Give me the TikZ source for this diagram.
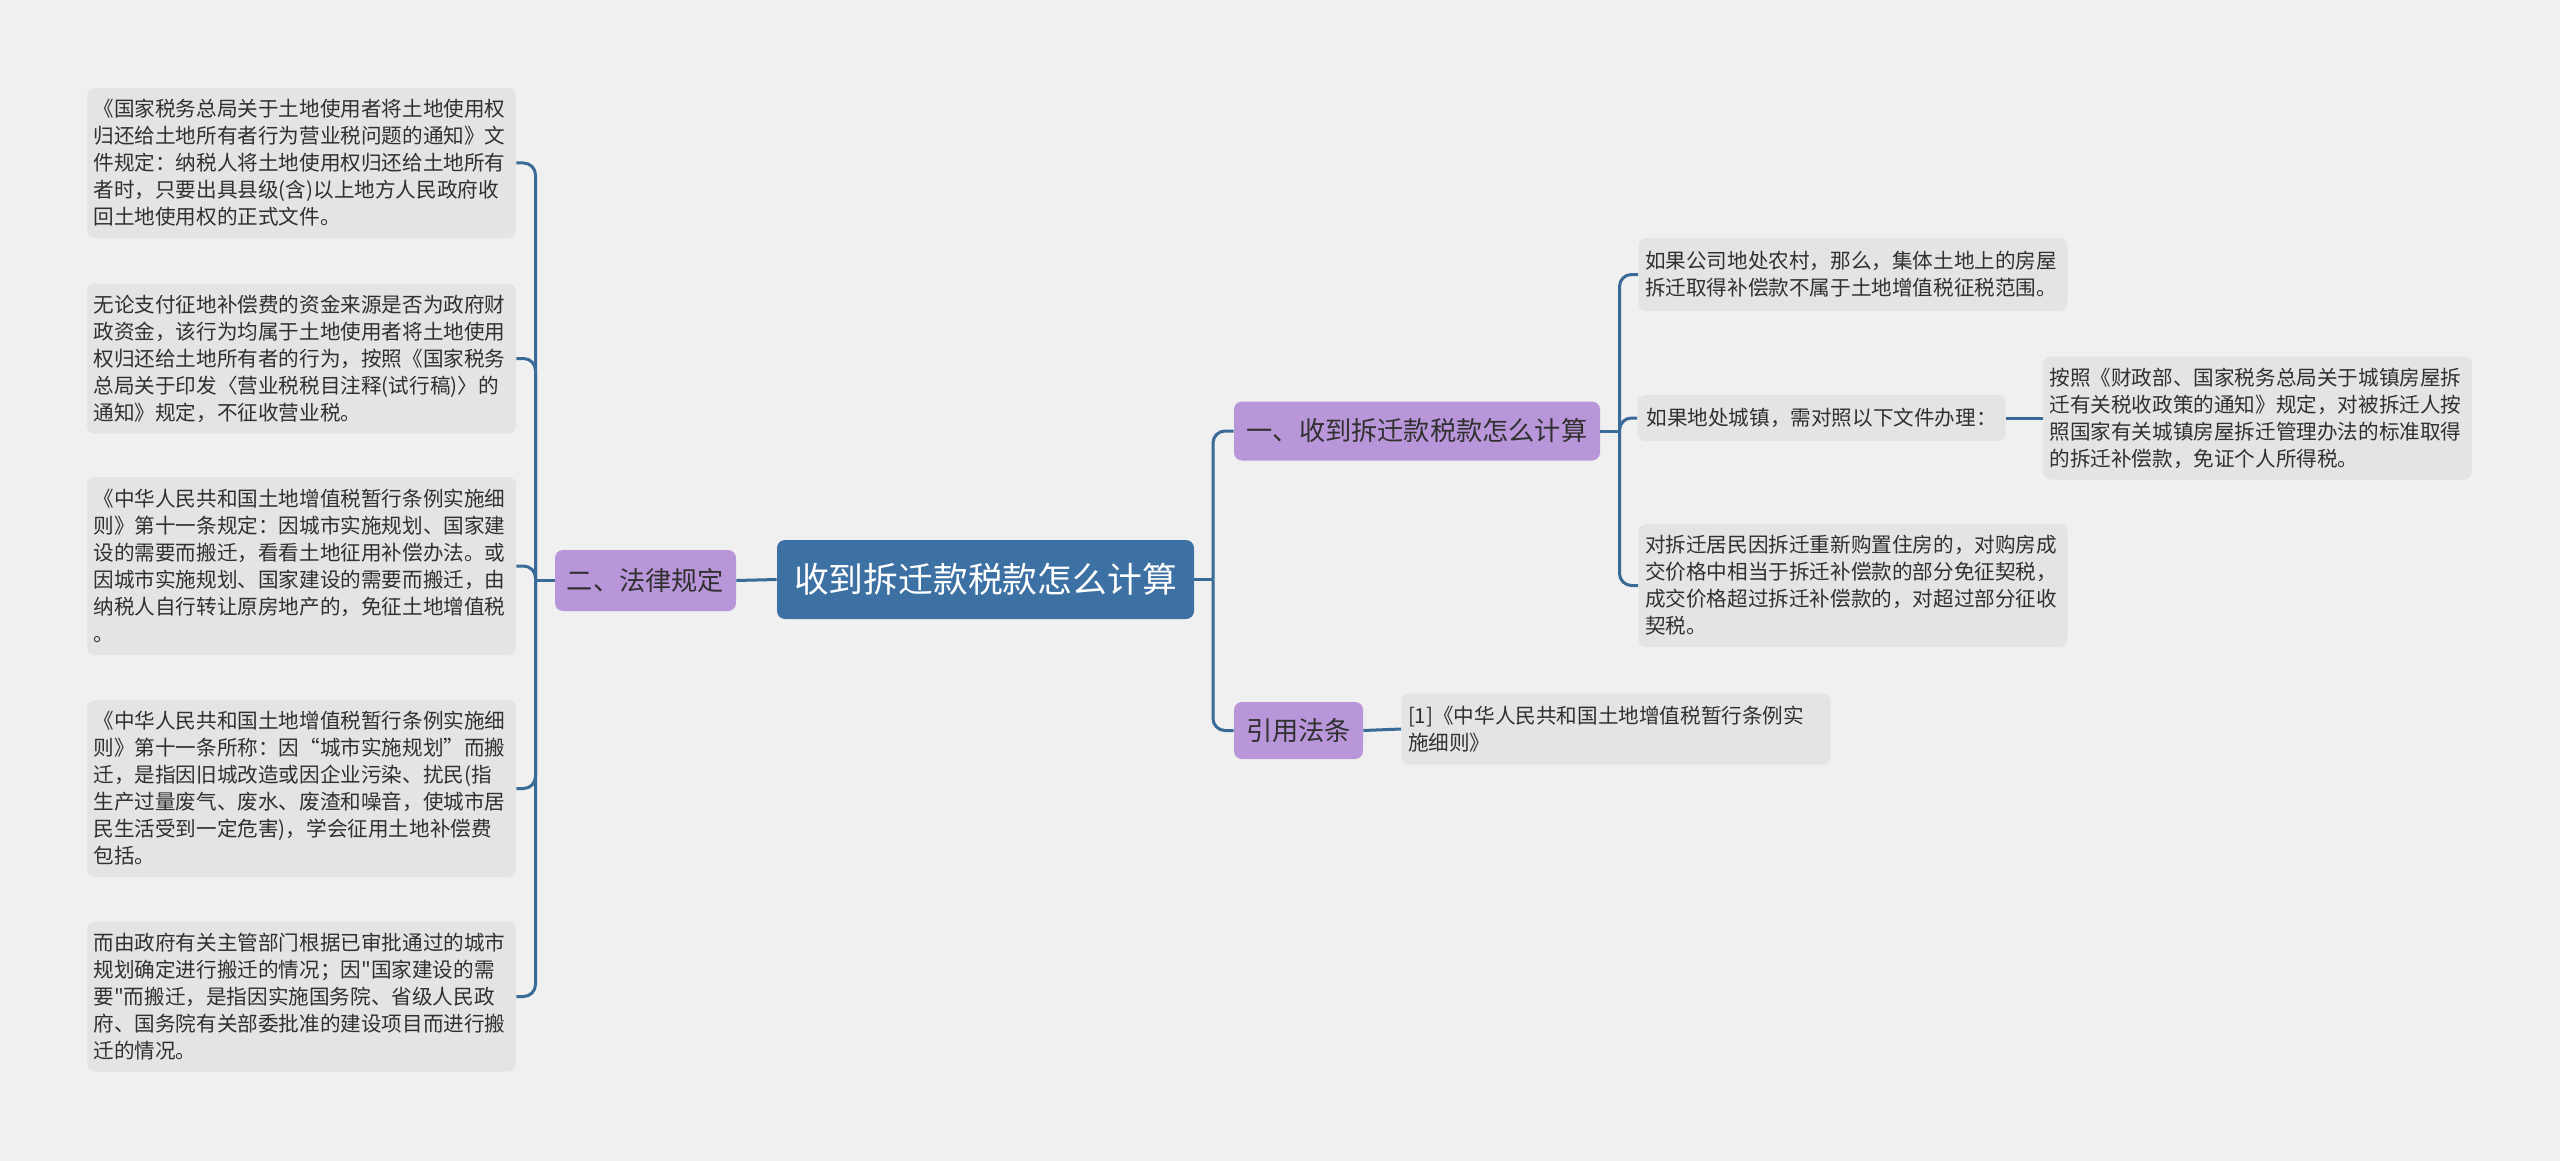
\documentclass[tikz,border=0pt]{standalone}
\usepackage{fontspec}
\setmainfont{Noto Sans CJK SC}[Ligatures=TeXOff]
\definecolor{bg}{HTML}{F0F0F0}
\definecolor{leafc}{HTML}{E4E4E4}
\definecolor{purp}{HTML}{B996D9}
\definecolor{rootc}{HTML}{3E71A3}
\definecolor{linec}{HTML}{3A6A98}
\definecolor{txt}{HTML}{303030}
\begin{document}
\begin{tikzpicture}[x=0.5pt,y=-0.5pt,
  leafbox/.style={fill=leafc, rounded corners=4pt, inner xsep=3.25pt, inner ysep=0pt,
    text width=208pt, align=left, text=txt, font=\fontsize{10.3}{13.5}\selectfont},
  shortleaf/.style={fill=leafc, rounded corners=4pt, inner xsep=4.5pt, inner ysep=0pt,
    align=left, text=txt, font=\fontsize{10.3}{13.5}\selectfont},
  branchbox/.style={fill=purp, rounded corners=4pt, inner sep=0pt, text=txt,
    font=\fontsize{13.1}{15}\selectfont},
  rootbox/.style={fill=rootc, rounded corners=4pt, inner sep=0pt, text=white,
    font=\fontsize{17.4}{20}\selectfont},
  conn/.style={draw=linec, line width=1.5pt, rounded corners=6pt}]
\useasboundingbox (0,0) rectangle (2560,1161);
\fill[bg] (0,0) rectangle (2560,1161);

% root and branches
\node[rootbox, minimum width=208.5pt, minimum height=39.5pt] (root) at (985.5,579.5) {收到拆迁款税款怎么计算};
\node[branchbox, minimum width=90.5pt, minimum height=30.5pt] (b2) at (645.5,580.5) {二、法律规定};
\node[branchbox, minimum width=183pt, minimum height=29.5pt] (b1) at (1417,431) {一、收到拆迁款税款怎么计算};
\node[branchbox, minimum width=64.5pt, minimum height=28.5pt] (b3) at (1298.5,730.5) {引用法条};

% left leaves
\node[leafbox, minimum height=75pt] (l1) at (301.5,163) {《国家税务总局关于土地使用者将土地使用权\\归还给土地所有者行为营业税问题的通知》文\\件规定：纳税人将土地使用权归还给土地所有\\者时，只要出具县级(含)以上地方人民政府收\\回土地使用权的正式文件。};
\node[leafbox, minimum height=75pt] (l2) at (301.5,358.5) {无论支付征地补偿费的资金来源是否为政府财\\政资金，该行为均属于土地使用者将土地使用\\权归还给土地所有者的行为，按照《国家税务\\总局关于印发〈营业税税目注释(试行稿)〉的\\通知》规定，不征收营业税。};
\node[leafbox, minimum height=89pt] (l3) at (301.5,566) {《中华人民共和国土地增值税暂行条例实施细\\则》第十一条规定：因城市实施规划、国家建\\设的需要而搬迁，看看土地征用补偿办法。或\\因城市实施规划、国家建设的需要而搬迁，由\\纳税人自行转让原房地产的，免征土地增值税\\。};
\node[leafbox, minimum height=88.5pt] (l4) at (301.5,788.5) {《中华人民共和国土地增值税暂行条例实施细\\则》第十一条所称：因“城市实施规划”而搬\\迁，是指因旧城改造或因企业污染、扰民(指\\生产过量废气、废水、废渣和噪音，使城市居\\民生活受到一定危害)，学会征用土地补偿费\\包括。};
\node[leafbox, minimum height=75pt] (l5) at (301.5,996.5) {而由政府有关主管部门根据已审批通过的城市\\规划确定进行搬迁的情况；因"国家建设的需\\要"而搬迁，是指因实施国务院、省级人民政\\府、国务院有关部委批准的建设项目而进行搬\\迁的情况。};

% right leaves
\node[leafbox, minimum height=36.5pt] (r1) at (1853,274.5) {如果公司地处农村，那么，集体土地上的房屋\\拆迁取得补偿款不属于土地增值税征税范围。};
\node[shortleaf, minimum width=182.5pt, minimum height=23pt] (r2) at (1821.5,418) {如果地处城镇，需对照以下文件办理：};
\node[leafbox, minimum height=61.5pt] (r2c) at (2257.5,418) {按照《财政部、国家税务总局关于城镇房屋拆\\迁有关税收政策的通知》规定，对被拆迁人按\\照国家有关城镇房屋拆迁管理办法的标准取得\\的拆迁补偿款，免证个人所得税。};
\node[leafbox, minimum height=61.5pt] (r3) at (1853,585.5) {对拆迁居民因拆迁重新购置住房的，对购房成\\交价格中相当于拆迁补偿款的部分免征契税，\\成交价格超过拆迁补偿款的，对超过部分征收\\契税。};
\node[leafbox, minimum height=35.5pt] (c1) at (1616,729) {[1]《中华人民共和国土地增值税暂行条例实\\施细则》};

% junctions
\coordinate (lj) at (535.5,580.5);
\coordinate (rj) at (1213,579.5);
\coordinate (b1j) at (1619.5,431);

% connectors
\draw[conn] (root.west) -- (b2.east);
\draw[conn] (b2.west) -- (lj);
\foreach \n in {l1,l2,l3,l4,l5} { \draw[conn] (lj) |- (\n.east); }
\draw[conn] (root.east) -- (rj);
\draw[conn] (rj) |- (b1.west);
\draw[conn] (rj) |- (b3.west);
\draw[conn] (b1.east) -- (b1j);
\foreach \n in {r1,r2,r3} { \draw[conn] (b1j) |- (\n.west); }
\draw[conn] (r2.east) -- (r2c.west);
\draw[conn] (b3.east) -- (c1.west);
\end{tikzpicture}
\end{document}
